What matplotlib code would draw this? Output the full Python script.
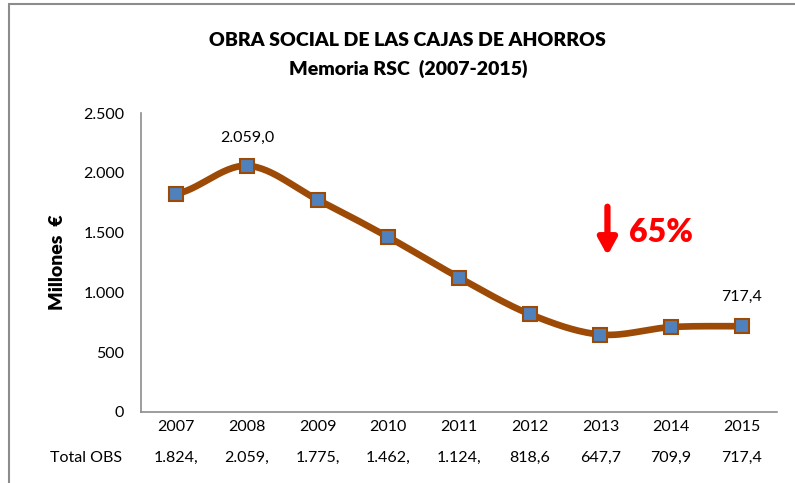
import numpy as np
import matplotlib
matplotlib.use('Agg')
import matplotlib.pyplot as plt
from matplotlib.patches import Rectangle

plt.rcParams['font.family'] = ['Lato', 'DejaVu Sans']

# data
years = ['2007', '2008', '2009', '2010', '2011', '2012', '2013', '2014', '2015']
total_obs = [1824.0, 2059.0, 1775.0, 1462.0, 1124.0, 818.6, 647.7, 709.9, 717.4]
table_labels = ['1.824,', '2.059,', '1.775,', '1.462,', '1.124,', '818,6', '647,7', '709,9', '717,4']
y_ticks = [0, 500, 1000, 1500, 2000, 2500]
y_tick_labels = ['0', '500', '1.000', '1.500', '2.000', '2.500']

line_color = '#9C4A06'
marker_color = '#4F81BD'


def smooth(x, y, n=30):
    """Catmull-Rom style smoothing, similar to Excel's smoothed line."""
    x = np.asarray(x, float)
    y = np.asarray(y, float)
    px = np.concatenate([[2 * x[0] - x[1]], x, [2 * x[-1] - x[-2]]])
    py = np.concatenate([[y[0]], y, [y[-1]]])
    xs, ys = [], []
    t = np.linspace(0, 1, n)
    for i in range(1, len(px) - 2):
        p0, p1, p2, p3 = [np.array([px[j], py[j]]) for j in (i - 1, i, i + 1, i + 2)]
        c1 = p1 + (p2 - p0) / 6
        c2 = p2 - (p3 - p1) / 6
        pts = ((1 - t) ** 3)[:, None] * p1 + (3 * (1 - t) ** 2 * t)[:, None] * c1 \
            + (3 * (1 - t) * t ** 2)[:, None] * c2 + (t ** 3)[:, None] * p2
        xs.extend(pts[:, 0])
        ys.extend(pts[:, 1])
    return np.array(xs), np.array(ys)


fig = plt.figure(figsize=(7.95, 4.83), dpi=100)
ax = fig.add_axes([0.1774, 0.147, 0.80, 0.619])

# outer chart border
fig.patches.append(Rectangle((0.011, -0.05), 1.2, 1.042, transform=fig.transFigure,
                             fill=False, edgecolor='#8C8C8C', linewidth=1.5))

xpos = np.arange(len(years))
sx, sy = smooth(xpos, total_obs)
ax.plot(sx, sy, color=line_color, linewidth=4.8, solid_capstyle='round', zorder=2)
ax.plot(xpos, total_obs, linestyle='none', marker='s', markersize=10,
        markerfacecolor=marker_color, markeredgecolor=line_color, markeredgewidth=1.5, zorder=3)

ax.set_xlim(-0.5, len(years) - 0.5)
ax.set_ylim(0, 2500)
ax.set_yticks(y_ticks)
ax.set_yticklabels(y_tick_labels, fontsize=11.5)
ax.set_xticks(xpos)
ax.set_xticklabels(years, fontsize=11.5)
ax.tick_params(axis='y', length=0, pad=12)
ax.tick_params(axis='x', length=0, pad=6)
for s in ['top', 'right']:
    ax.spines[s].set_visible(False)
for s in ['left', 'bottom']:
    ax.spines[s].set_color('#8C8C8C')
    ax.spines[s].set_linewidth(1.2)

ax.set_ylabel('Millones  €', fontsize=14, fontweight='heavy', labelpad=12)

# data labels
ax.annotate('2.059,0', (xpos[1], total_obs[1]), xytext=(0, 15), textcoords='offset points',
            ha='center', va='bottom', fontsize=11.5)
ax.annotate('717,4', (xpos[-1], total_obs[-1]), xytext=(0, 16), textcoords='offset points',
            ha='center', va='bottom', fontsize=11.5)

# data table row
ax.text(-0.5 - 0.27, -0.155, 'Total OBS', transform=ax.get_xaxis_transform(),
        ha='right', va='center', fontsize=11.5)
for i, lab in enumerate(table_labels):
    ax.text(xpos[i], -0.155, lab, transform=ax.get_xaxis_transform(),
            ha='center', va='center', fontsize=11.5)

# drop annotation
ax.annotate('', xy=(6.1, 1285), xytext=(6.1, 1740),
            arrowprops=dict(arrowstyle='-|>,head_length=1.0,head_width=0.55',
                            color='#FF0000', lw=4.5))
ax.text(6.4, 1500, '65%', color='#FF0000', fontsize=23, fontweight='heavy',
        ha='left', va='center')

fig.text(0.513, 0.916, 'OBRA SOCIAL DE LAS CAJAS DE AHORROS', ha='center', va='center',
         fontsize=14, fontweight='heavy')
fig.text(0.513, 0.858, 'Memoria RSC  (2007-2015)', ha='center', va='center',
         fontsize=14, fontweight='heavy')

fig.savefig('out.png', dpi=100)
